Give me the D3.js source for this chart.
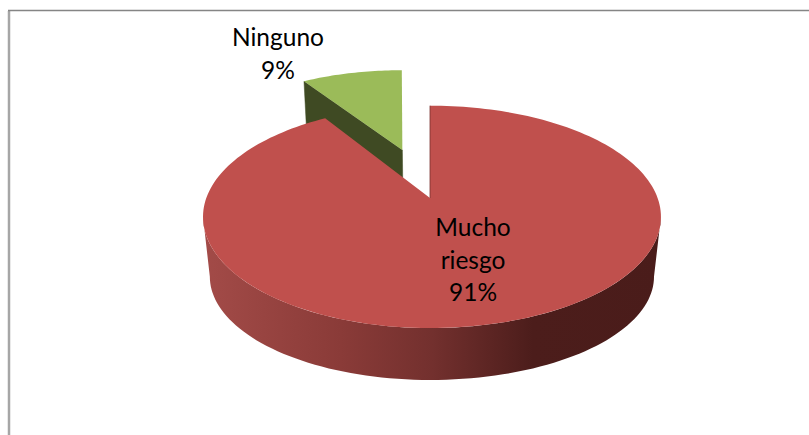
<!DOCTYPE html>
<html><head><meta charset="utf-8">
<script src="https://cdn.jsdelivr.net/npm/d3@7"></script>
<style>html,body{margin:0;padding:0;background:#fff}svg{display:block}</style></head>
<body><svg id="c" width="809" height="435"></svg>
<script>
const categories = ["Mucho riesgo", "Ninguno"];
const values = [91, 9];
const percentLabels = ["91%", "9%"];
const labelLines = [["Mucho", "riesgo", "91%"], ["Ninguno", "9%"]];
const sliceColors = ["#c0504d", "#9bbb59"];
const wallColors = ["#7a302e", "#3f4a23"];
const sideStops = [[0, "#a34b48"], [0.3, "#8a3b38"], [0.5, "#73302e"], [0.72, "#4c1d1b"], [1, "#4a1c1a"]];

const svg = d3.select("#c");
const W = 809, H = 435;

// perspective model of the pie plane
const cx = 430, apexY = 198, k = 0.1696, axL = 223.7, axR = 227.6, ay = 108;
const lowerX = 0.97, lowerY = 0.93, lowerApexY = 259;
const project = (u, v, lower, lean = 0) => {
  const w = 1 + k * v;
  const X = (u < 0 ? axL : axR) * u / w, Y = ay * v / w;
  return lower ? [cx + X * lowerX + lean * Y, lowerApexY - Y * lowerY] : [cx + X + lean * Y, apexY - Y];
};
const rim = (a, lower, off = [0, 0, 0]) => project(Math.sin(a) + off[0], Math.cos(a) + off[1], lower, off[2]);

const arcs = d3.pie().sort(null).value(d => d)(values);
const line = d3.line();
const sweep = (a0, a1, n, lower, off) => d3.range(n + 1).map(i => rim(a0 + (a1 - a0) * i / n, lower, off));

const defs = svg.append("defs");
const grad = defs.append("linearGradient").attr("id", "side").attr("gradientUnits", "userSpaceOnUse")
  .attr("x1", 203).attr("x2", 661).attr("y1", 0).attr("y2", 0);
sideStops.forEach(s => grad.append("stop").attr("offset", s[0]).attr("stop-color", s[1]));

// frame
svg.append("path").attr("d", `M9,${H}V11`).attr("fill", "none").attr("stroke", "#a6a6a6").attr("stroke-width", 2.5);
svg.append("path").attr("d", `M8,10.5H${W}`).attr("fill", "none").attr("stroke", "#858585").attr("stroke-width", 1.6);

// exploded slice
const off = [-0.122, 0.48, -0.05];
const g = arcs[1];
const gTop = sweep(g.startAngle, g.endAngle, 30, false, off);
const gApexT = project(off[0], off[1], false, off[2]), gApexB = project(off[0], off[1], true, off[2]);
const gOuterT = gTop[0], gOuterB = rim(g.startAngle, true, off);
svg.append("path").attr("d", line([gOuterT, gApexT, gApexB, gOuterB]) + "Z").attr("fill", wallColors[1]).attr("stroke", wallColors[1]).attr("stroke-width", .5);
svg.append("path").attr("d", line([gApexT, ...gTop]) + "Z").attr("fill", sliceColors[1]);

// main slice
const r = arcs[0];
const sideTop = sweep(Math.acos(-k), 2 * Math.PI - Math.acos(-k), 90, false);
const sideBot = sweep(Math.acos(-k), 2 * Math.PI - Math.acos(-k), 90, true).reverse();
svg.append("path").attr("d", line([...sideTop, ...sideBot]) + "Z").attr("fill", "url(#side)");
svg.append("path").attr("d", line([project(0, 0, false), ...sweep(r.startAngle, r.endAngle, 200, false)]) + "Z").attr("fill", sliceColors[0]);
svg.append("line").attr("x1", rim(0, false)[0]).attr("y1", rim(0, false)[1]).attr("x2", cx).attr("y2", apexY)
  .attr("stroke", wallColors[0]).attr("stroke-width", 0.8);

// labels
const labelPos = [[473, 236], [278, 46]];
labelLines.forEach((ls, i) => {
  const t = svg.append("text").attr("text-anchor", "middle").attr("font-family", "Lato").attr("font-size", 24.5).attr("fill", "#000");
  ls.forEach((s, j) => t.append("tspan").attr("x", labelPos[i][0]).attr("y", labelPos[i][1] + j * 32.5).text(s));
});
</script></body></html>
